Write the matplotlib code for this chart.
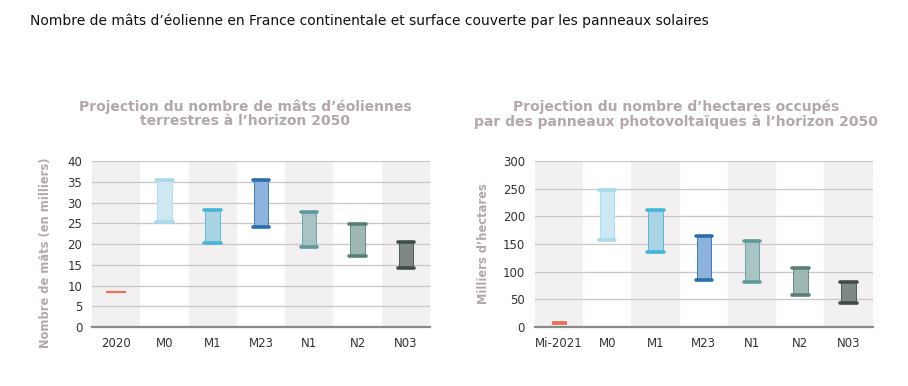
import numpy as np
import matplotlib
matplotlib.use("Agg")
import matplotlib.pyplot as plt

# Wind masts (thousands)
cats_w = ["2020", "M0", "M1", "M23", "N1", "N2", "N03"]
low_w = [8.5, 25.3, 20.2, 24.2, 19.3, 17.2, 14.3]
high_w = [8.5, 35.5, 28.2, 35.5, 27.7, 24.8, 20.5]

# Solar panels (thousands of hectares)
cats_s = ["Mi-2021", "M0", "M1", "M23", "N1", "N2", "N03"]
low_s = [5, 158, 136, 85, 82, 57, 44]
high_s = [10, 248, 212, 164, 156, 106, 82]

fills = ["#e8735a", "#cde8f3", "#a9d4e4", "#8db2dd", "#a8c3c4", "#9db7b2", "#7f8885"]
caps = ["#e8735a", "#a9d9ec", "#45b6d6", "#2a6ead", "#5e9a9d", "#5b7d78", "#3f4c49"]

title_col = "#b3a7a9"
shade = "#f3f0f1"

fig = plt.figure(figsize=(9.08, 3.86), dpi=100)
fig.text(0.033, 0.945, "Nombre de mâts d\u2019éolienne en France continentale et surface couverte par les panneaux solaires",
         fontsize=10, color="#111111", ha="left", va="center")


def draw(ax, cats, low, high, ymax, step, ylabel, line_first, lab_xy):
    n = len(cats)
    x = np.arange(n)
    for i in range(0, n, 2):
        ax.axvspan(i - 0.5, i + 0.5, color=shade, zorder=0, lw=0)
    ax.set_xlim(-0.5, n - 0.5)
    ax.set_ylim(0, ymax)
    ax.set_yticks(np.arange(0, ymax + 1, step))
    ax.yaxis.grid(True, color="#c9c6c7", lw=0.9, zorder=1)
    ax.set_axisbelow(True)
    w = 0.3
    for i in range(n):
        if i == 0 and line_first:
            ax.hlines(low[i], x[i] - 0.2, x[i] + 0.2, color=fills[i], lw=1.6, zorder=3)
            continue
        ax.bar(x[i], high[i] - low[i], bottom=low[i], width=w, color=fills[i],
               edgecolor=caps[i] if i > 0 else fills[i], lw=0.6, zorder=3)
        if i > 0:
            ax.hlines([low[i], high[i]], x[i] - w / 2 - 0.02, x[i] + w / 2 + 0.02,
                      color=caps[i], lw=2.6, zorder=4, capstyle="round")
    ax.set_xticks(x)
    ax.set_xticklabels(cats)
    for s in ["top", "right", "left"]:
        ax.spines[s].set_visible(False)
    ax.spines["bottom"].set_color("#8a8a8a")
    ax.spines["bottom"].set_linewidth(1.6)
    ax.tick_params(axis="both", length=0, labelsize=8.5, colors="#333333", pad=7)
    ax.set_ylabel(ylabel, fontsize=8.3, fontweight="bold", color=title_col)
    ax.yaxis.set_label_coords(*lab_xy)


ax1 = fig.add_axes([0.1013, 0.1528, 0.3722, 0.4301])
draw(ax1, cats_w, low_w, high_w, 40, 5, "Nombre de mâts (en milliers)", True, (-0.118, 0.45))

ax2 = fig.add_axes([0.589, 0.1528, 0.3722, 0.4301])
draw(ax2, cats_s, low_s, high_s, 300, 50, "Milliers d\u2019hectares", False, (-0.133, 0.5))

fig.text(0.270, 0.705, "Projection du nombre de mâts d\u2019éoliennes\nterrestres à l\u2019horizon 2050",
         fontsize=10, fontweight="bold", color=title_col, ha="center", va="center", linespacing=1.05)
fig.text(0.7445, 0.705, "Projection du nombre d\u2019hectares occupés\npar des panneaux photovoltaïques à l\u2019horizon 2050",
         fontsize=10, fontweight="bold", color=title_col, ha="center", va="center", linespacing=1.05)

fig.savefig("out.png", dpi=100)
